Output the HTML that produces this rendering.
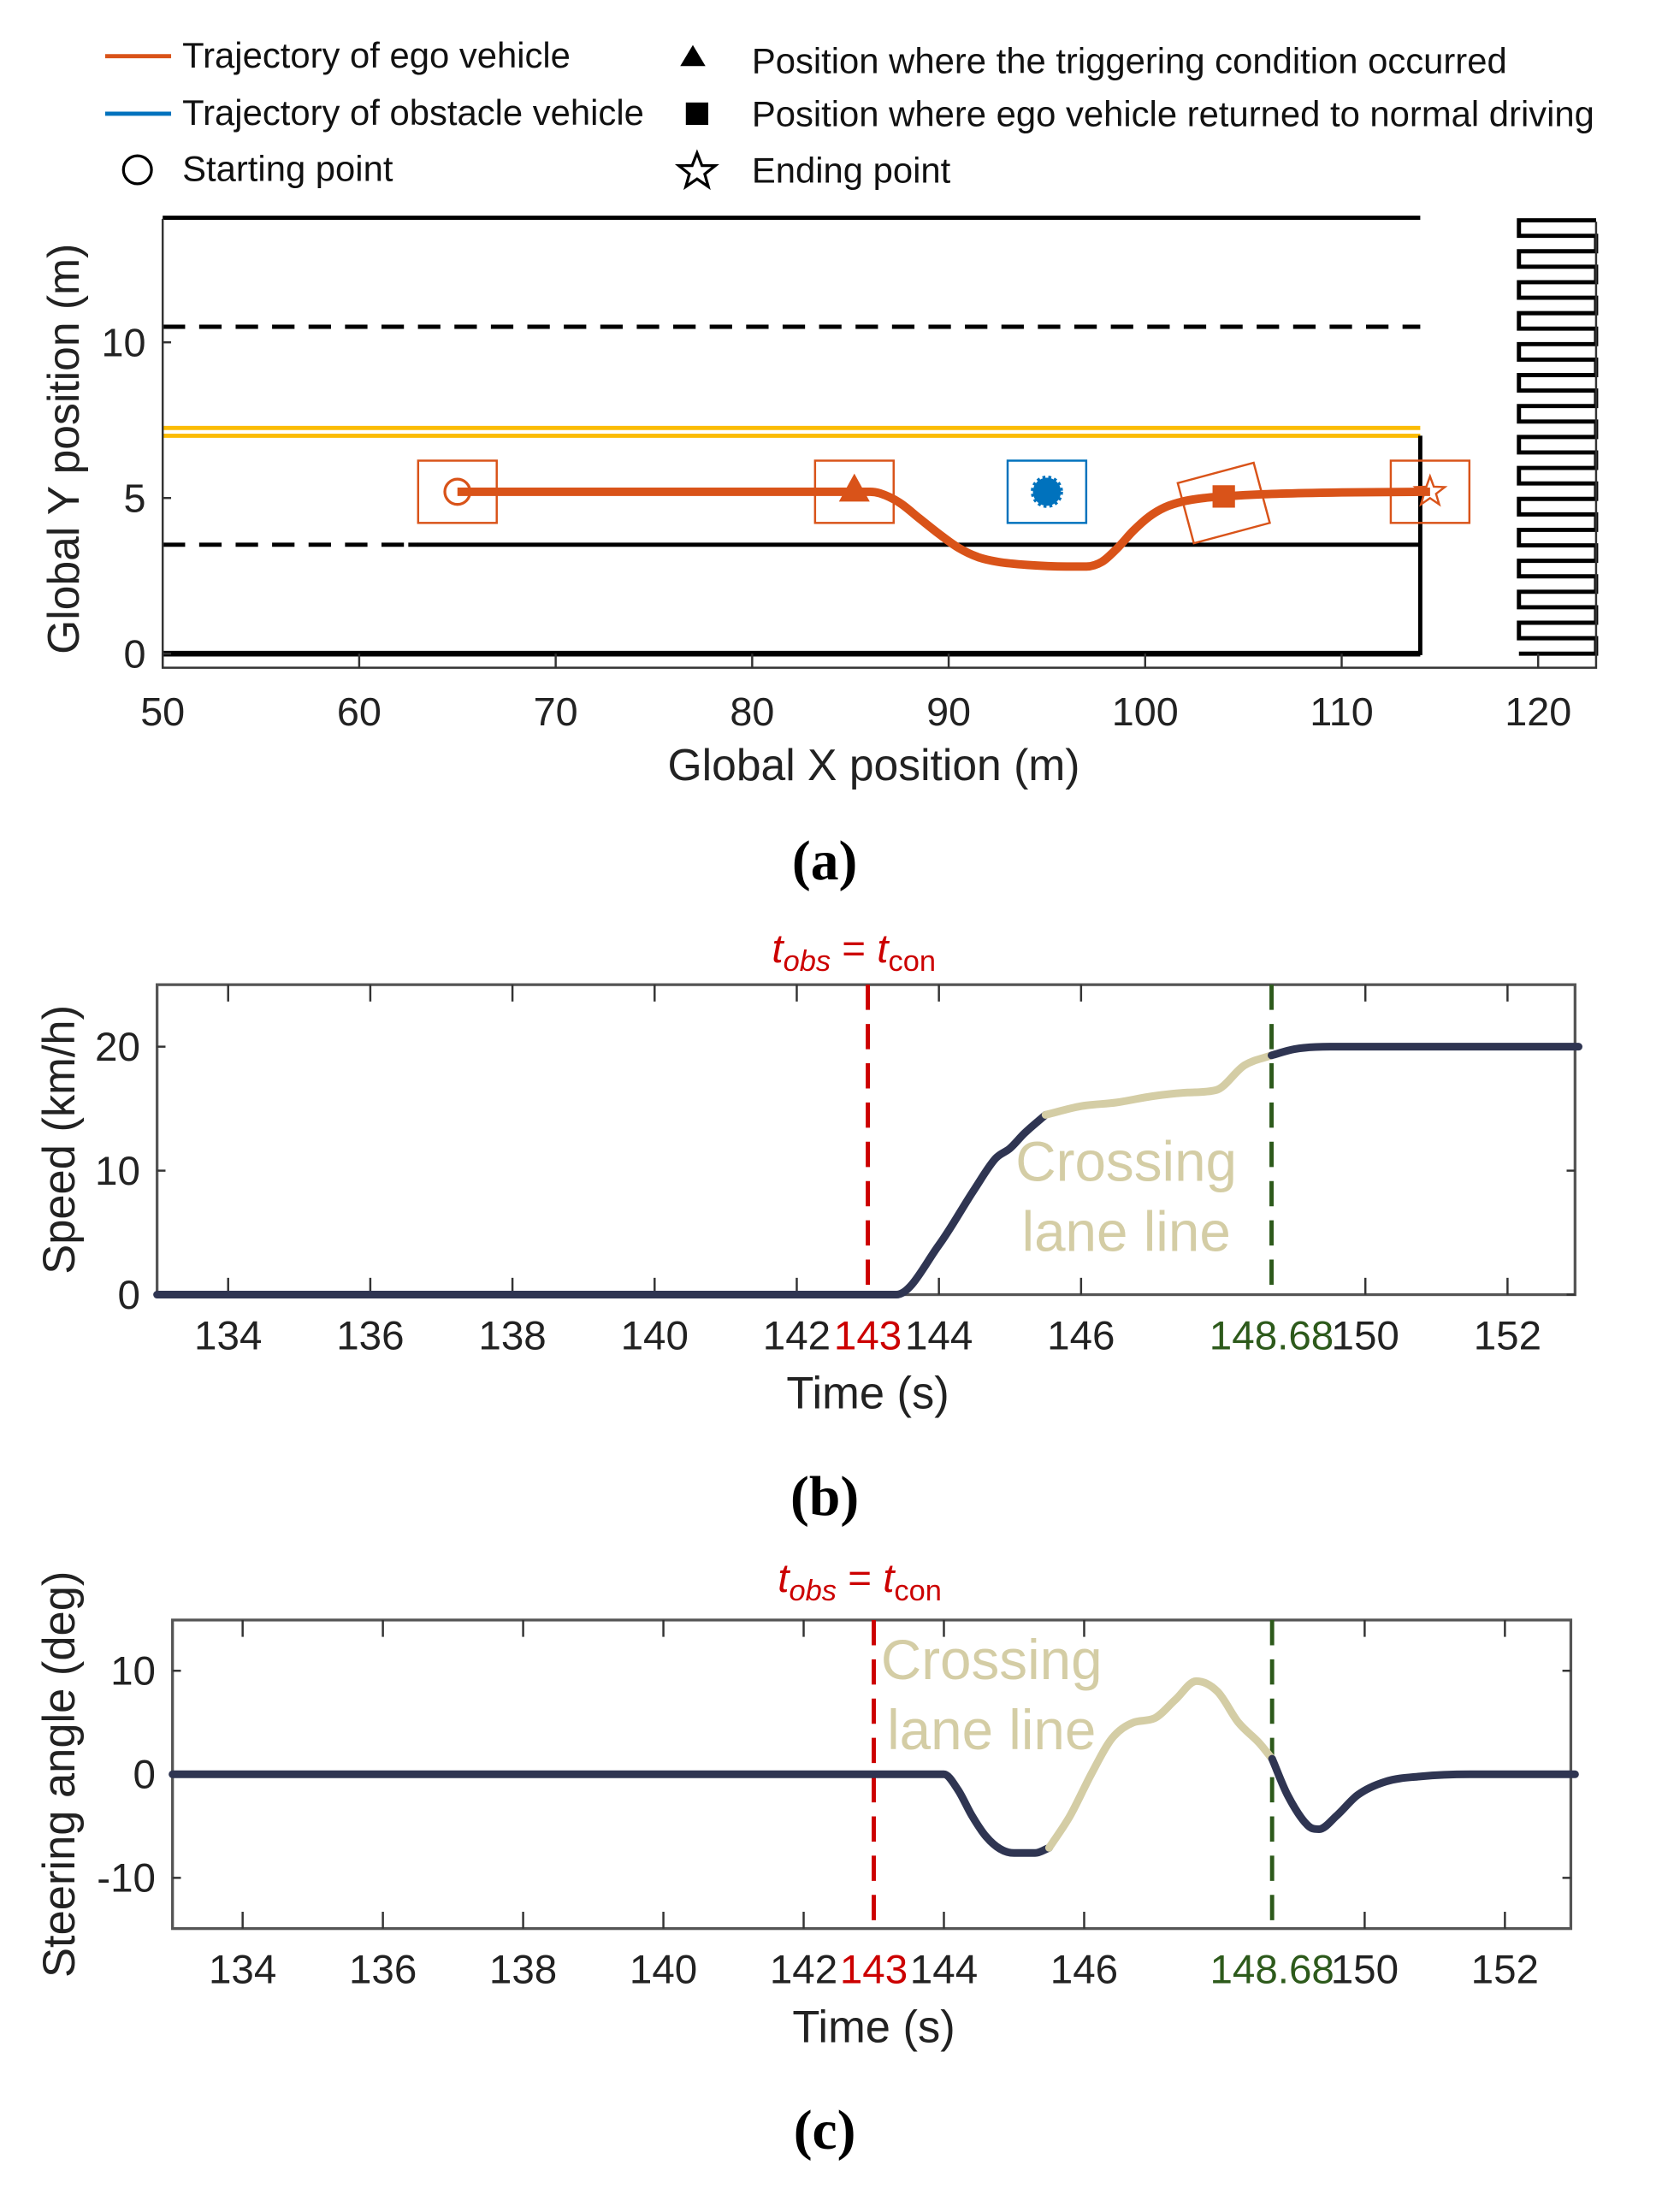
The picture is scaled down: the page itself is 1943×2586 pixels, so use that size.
<!DOCTYPE html>
<html><head><meta charset="utf-8"><style>
html,body{margin:0;padding:0;background:#fff}
svg{display:block;font-family:"Liberation Sans",sans-serif}
</style></head><body>
<svg id="fig" width="1943" height="2586" viewBox="0 0 1185 1577" xmlns="http://www.w3.org/2000/svg">
<g id="legend" font-size="25.5" fill="#111">
 <line x1="75" y1="40" x2="122" y2="40" stroke="#d95319" stroke-width="3"/>
 <text x="130" y="48">Trajectory of ego vehicle</text>
 <line x1="75" y1="81" x2="122" y2="81" stroke="#0072bd" stroke-width="3"/>
 <text x="130" y="89">Trajectory of obstacle vehicle</text>
 <circle cx="98" cy="121" r="10" fill="none" stroke="#000" stroke-width="2"/>
 <text x="130" y="129">Starting point</text>
 <polygon points="494,32 503,47 485,47" fill="#000"/>
 <text x="536" y="52">Position where the triggering condition occurred</text>
 <rect x="489" y="73" width="16" height="16" fill="#000"/>
 <text x="536" y="90">Position where ego vehicle returned to normal driving</text>
 <polygon points="497,109 500.5,118 510,118 502.5,124 505,133 497,127.5 489,133 491.5,124 484,118 493.5,118" fill="none" stroke="#000" stroke-width="2"/>
 <text x="536" y="130">Ending point</text>
</g>
<g id="pa"></g>
<g id="pb"></g>
<g id="pc"></g>
<text x="588" y="627" font-family="Liberation Serif,serif" font-weight="bold" font-size="40" text-anchor="middle">(a)</text>
<text x="588" y="1080" font-family="Liberation Serif,serif" font-weight="bold" font-size="40" text-anchor="middle">(b)</text>
<text x="588" y="1532" font-family="Liberation Serif,serif" font-weight="bold" font-size="40" text-anchor="middle">(c)</text>
</svg>
<script>
// ---- Panel (a) data ----
const trajX = [65,86,86.5,87.5,88.5,89.5,90.5,91.5,92.5,94,96,97,97.8,98.6,99.4,100.2,101,102,103,104,106,110,114.5];
const trajY = [5.2,5.2,5.15,4.85,4.35,3.85,3.4,3.1,2.95,2.85,2.8,2.8,2.95,3.4,3.95,4.4,4.7,4.9,5.0,5.05,5.12,5.18,5.2];
const xTicksA = [50,60,70,80,90,100,110,120];
const yTicksA = [0,5,10];
const markerX = [65,85.2,104,114.5];
const obstacleX = [95];
const obstacleY = [5.2];
// ---- Panel (b) data ----
const speedT1 = [133,143.4,144,144.5,144.8,145.0,145.2,145.5];
const speedV1 = [0,0,4,8.5,11,11.8,13,14.5];
const speedT2 = [145.5,146,146.5,147,147.5,147.9,148.3,148.68];
const speedV2 = [14.5,15.2,15.5,16,16.3,16.5,18.5,19.3];
const speedT3 = [148.68,149,149.5,150,153];
const speedV3 = [19.3,19.8,20,20,20];
const timeTicks = [134,136,138,140,142,144,146,150,152];
const speedTicks = [0,10,20];
// ---- Panel (c) data ----
const steerT1 = [133,144,144.2,144.4,144.6,144.8,145.0,145.3,145.5];
const steerV1 = [0,0,-1.5,-4,-6,-7.2,-7.6,-7.6,-7.1];
const steerT2 = [145.5,145.8,146.1,146.4,146.7,147.0,147.3,147.6,147.9,148.2,148.5,148.68];
const steerV2 = [-7.1,-4,0,3.5,5,5.4,7.2,9,8,5,3,1.5];
const steerT3 = [148.68,148.9,149.2,149.35,149.6,149.9,150.3,150.8,151.5,153];
const steerV3 = [1.5,-2,-5,-5.3,-4,-2,-0.7,-0.2,0,0];
const steerTicks = [-10,0,10];
const eventT = [143,148.68];

const NS="http://www.w3.org/2000/svg";
function mk(parent,tag,attrs,txt){const e=document.createElementNS(NS,tag);for(const k in attrs)e.setAttribute(k,attrs[k]);if(txt!==undefined)e.textContent=txt;parent.appendChild(e);return e;}
// monotone cubic (Fritsch-Carlson) path through data points
function pathD(xs,ys,sx,sy){
 const n=xs.length;
 const d=[],m=new Array(n).fill(0);
 for(let i=0;i<n-1;i++)d.push((ys[i+1]-ys[i])/(xs[i+1]-xs[i]));
 m[0]=d[0];m[n-1]=d[n-2];
 for(let i=1;i<n-1;i++){m[i]=(d[i-1]*d[i]<=0)?0:(d[i-1]+d[i])/2;}
 for(let i=0;i<n-1;i++){
  if(d[i]===0){m[i]=0;m[i+1]=0;continue;}
  const a=m[i]/d[i],b=m[i+1]/d[i],s=a*a+b*b;
  if(s>9){const t=3/Math.sqrt(s);m[i]=t*a*d[i];m[i+1]=t*b*d[i];}
 }
 let p='M'+sx(xs[0]).toFixed(2)+','+sy(ys[0]).toFixed(2);
 for(let i=0;i<n-1;i++){
  const h=xs[i+1]-xs[i];
  p+=' C'+sx(xs[i]+h/3).toFixed(2)+','+sy(ys[i]+m[i]*h/3).toFixed(2)+' '+sx(xs[i+1]-h/3).toFixed(2)+','+sy(ys[i+1]-m[i+1]*h/3).toFixed(2)+' '+sx(xs[i+1]).toFixed(2)+','+sy(ys[i+1]).toFixed(2);
 }
 return p;
}

// ===== Panel A =====
(function(){
const g=document.getElementById('pa');
const sx=v=>116+(v-50)*14.01, sy=v=>466-v*22.2;
const L=116,R=1138,T=156,B=476;
let e;
e=mk(g,'line',{x1:sx(50),y1:sy(14),x2:sx(114),y2:sy(14),stroke:'#000','stroke-width':3});

e=mk(g,'line',{x1:sx(50),y1:sy(10.5),x2:sx(114),y2:sy(10.5),stroke:'#000','stroke-width':3,'stroke-dasharray':'16,10'});

e=mk(g,'line',{x1:sx(50),y1:sy(7.25),x2:sx(114),y2:sy(7.25),stroke:'#fbbc05','stroke-width':3});

e=mk(g,'line',{x1:sx(50),y1:sy(7.0),x2:sx(114),y2:sy(7.0),stroke:'#fbbc05','stroke-width':3});

e=mk(g,'line',{x1:sx(114),y1:sy(7),x2:sx(114),y2:sy(0)+1,stroke:'#000','stroke-width':3});

e=mk(g,'line',{x1:sx(50),y1:sy(3.5),x2:sx(63),y2:sy(3.5),stroke:'#000','stroke-width':3,'stroke-dasharray':'16,10'});

e=mk(g,'line',{x1:sx(62.5),y1:sy(3.5),x2:sx(114),y2:sy(3.5),stroke:'#000','stroke-width':3});

e=mk(g,'line',{x1:sx(50),y1:sy(0),x2:sx(114),y2:sy(0),stroke:'#000','stroke-width':4});

let pts=[],n=28,x0=1083,x1=1138,ys=157,step=(466-157)/n;
for(let i=0;i<=n;i++){const y=ys+i*step;if(i===0){pts.push([x1,y],[x0,y]);}else{const prev=pts[pts.length-1];pts.push([prev[0],y]);pts.push([prev[0]===x0?x1:x0,y]);}}
e=mk(g,'polyline',{points:pts.map(p=>p.join(',')).join(' '),fill:'none',stroke:'#000','stroke-width':3});

e=mk(g,'polyline',{points:`${L},${T} ${L},${B} ${R},${B} ${R},${T+2}`,fill:'none',stroke:'#333','stroke-width':1.5});

xTicksA.forEach(v=>{
 const t=mk(g,'line',{x1:sx(v),y1:B,x2:sx(v),y2:B-10,stroke:'#333','stroke-width':1.5});
 
 const l=mk(g,'text',{x:sx(v),y:B+41,'font-size':28.5,'text-anchor':'middle',fill:'#222'},String(v));
 
});
yTicksA.forEach(v=>{
 const t=mk(g,'line',{x1:L,y1:sy(v),x2:L+6,y2:sy(v),stroke:'#333','stroke-width':1.5});
 
 const l=mk(g,'text',{x:L-12,y:sy(v)+10,'font-size':28.5,'text-anchor':'end',fill:'#222'},String(v));
 
});
e=mk(g,'text',{x:623,y:556,'font-size':31.5,'text-anchor':'middle',fill:'#222'},'Global X position (m)');

e=mk(g,'text',{x:0,y:0,'font-size':31.5,'text-anchor':'middle',fill:'#222',transform:'translate(56,320) rotate(-90)'},'Global Y position (m)');

const boxW=4*14.01, boxH=2*22.2;
markerX.forEach((mx,i)=>{
 const my=trajY[0];const cx=sx(mx),cy=sy(my)+(i===2?8:0);
 const b=mk(g,'rect',{x:cx-boxW/2,y:cy-boxH/2,width:boxW,height:boxH,fill:'none',stroke:'#d95319','stroke-width':1.5,transform:i===2?`rotate(-15 ${cx} ${cy})`:''});
 
});
obstacleX.forEach((ox,i)=>{
 const cx=sx(ox),cy=sy(obstacleY[i]);
 const b=mk(g,'rect',{x:cx-boxW/2,y:cy-boxH/2,width:boxW,height:boxH,fill:'none',stroke:'#0072bd','stroke-width':1.5});
 
 const c=mk(g,'circle',{cx:cx,cy:cy,r:10,fill:'#0072bd',stroke:'#0072bd','stroke-width':3,'stroke-dasharray':'2,2'});
 
});
e=mk(g,'path',{d:pathD(trajX,trajY,sx,sy),fill:'none',stroke:'#d95319','stroke-width':6,'stroke-linejoin':'round'});

const interp=x=>{for(let i=1;i<trajX.length;i++){if(x<=trajX[i]){const f=(x-trajX[i-1])/(trajX[i]-trajX[i-1]);return trajY[i-1]+f*(trajY[i]-trajY[i-1]);}}return trajY[trajY.length-1];};
let cx=sx(markerX[0]),cy=sy(interp(markerX[0]));
e=mk(g,'circle',{cx:cx,cy:cy,r:9,fill:'none',stroke:'#d95319','stroke-width':2});

cx=sx(markerX[1]);cy=sy(interp(markerX[1]));
e=mk(g,'polygon',{points:`${cx},${cy-13} ${cx+11},${cy+7} ${cx-11},${cy+7}`,fill:'#d95319'});

cx=sx(markerX[2]);cy=sy(interp(markerX[2]));
e=mk(g,'rect',{x:cx-8,y:cy-8,width:16,height:16,fill:'#d95319'});

cx=sx(markerX[3]);cy=sy(interp(markerX[3]));
let sp=[];for(let k=0;k<10;k++){const r=k%2?4.5:11,a=-Math.PI/2+k*Math.PI/5;sp.push((cx+r*Math.cos(a)).toFixed(1)+','+(cy+r*Math.sin(a)).toFixed(1));}
e=mk(g,'polygon',{points:sp.join(' '),fill:'none',stroke:'#d95319','stroke-width':1.5});

})();

function tsPanel(gid,box,t0,t1,y0,y1,yTicks,series,yTitle,titleY,crossX,crossY,yTitleX){
 const g=document.getElementById(gid);
 const {L,R,T,B}=box;
 const sx=v=>L+(v-t0)/(t1-t0)*(R-L), sy=v=>B-(v-y0)/(y1-y0)*(B-T);
 let e=mk(g,'rect',{x:L,y:T,width:R-L,height:B-T,fill:'none',stroke:'#555','stroke-width':2});
 
 timeTicks.forEach(v=>{
  const a=mk(g,'line',{x1:sx(v),y1:B,x2:sx(v),y2:B-12,stroke:'#333','stroke-width':1.5});
  
  const b=mk(g,'line',{x1:sx(v),y1:T,x2:sx(v),y2:T+12,stroke:'#333','stroke-width':1.5});
  
  const l=mk(g,'text',{x:sx(v),y:B+39,'font-size':29,'text-anchor':'middle',fill:'#222'},String(v));
  
 });
 yTicks.forEach(v=>{
  const a=mk(g,'line',{x1:L,y1:sy(v),x2:L+6,y2:sy(v),stroke:'#333','stroke-width':1.5});
  
  const b=mk(g,'line',{x1:R,y1:sy(v),x2:R-6,y2:sy(v),stroke:'#333','stroke-width':1.5});
  
  const l=mk(g,'text',{x:L-12,y:sy(v)+10,'font-size':29,'text-anchor':'end',fill:'#222'},String(v));
  
 });
 const cols=['#cc0000','#2d5a1b'];
 eventT.forEach((v,i)=>{
  const a=mk(g,'line',{x1:sx(v),y1:T,x2:sx(v),y2:B,stroke:cols[i],'stroke-width':3,'stroke-dasharray':'18,10'});
  
  const l=mk(g,'text',{x:sx(v),y:B+39,'font-size':29,'text-anchor':'middle',fill:cols[i]},String(v));
  
 });
 const sc=['#2f3552','#d4cda5','#2f3552'];
 series.forEach((s,i)=>{
  const p=mk(g,'path',{d:pathD(s[0],s[1],sx,sy),fill:'none',stroke:sc[i],'stroke-width':5.5,'stroke-linejoin':'round','stroke-linecap':'round'});
  
 });
 e=mk(g,'text',{x:crossX,y:crossY,'font-size':40,'text-anchor':'middle',fill:'#d4cda5'},'Crossing');
 
 e=mk(g,'text',{x:crossX,y:crossY+50,'font-size':40,'text-anchor':'middle',fill:'#d4cda5'},'lane line');
 
 e=mk(g,'text',{x:sx(143)-10,y:titleY,'font-size':29,'text-anchor':'middle',fill:'#cc0000'});
 
 e.innerHTML='<tspan font-style="italic">t</tspan><tspan font-style="italic" font-size="21" dy="6">obs</tspan><tspan dy="-6"> = </tspan><tspan font-style="italic">t</tspan><tspan font-size="21" dy="6">con</tspan>';
 e=mk(g,'text',{x:sx(143),y:B+81,'font-size':32,'text-anchor':'middle',fill:'#222'},'Time (s)');
 
 e=mk(g,'text',{x:0,y:0,'font-size':32,'text-anchor':'middle',fill:'#222',transform:`translate(${yTitleX},${(T+B)/2}) rotate(-90)`},yTitle);
 
}
tsPanel('pb',{L:112,R:1123,T:702,B:923},133,152.95,0,25,speedTicks,
 [[speedT1,speedV1],[speedT2,speedV2],[speedT3,speedV3]],'Speed (km/h)',686,803,842,53);
tsPanel('pc',{L:123,R:1120,T:1155,B:1375},133,152.94,-14.9,14.9,steerTicks,
 [[steerT1,steerV1],[steerT2,steerV2],[steerT3,steerV3]],'Steering angle (deg)',1135,707,1197,53);
</script>
</body></html>
